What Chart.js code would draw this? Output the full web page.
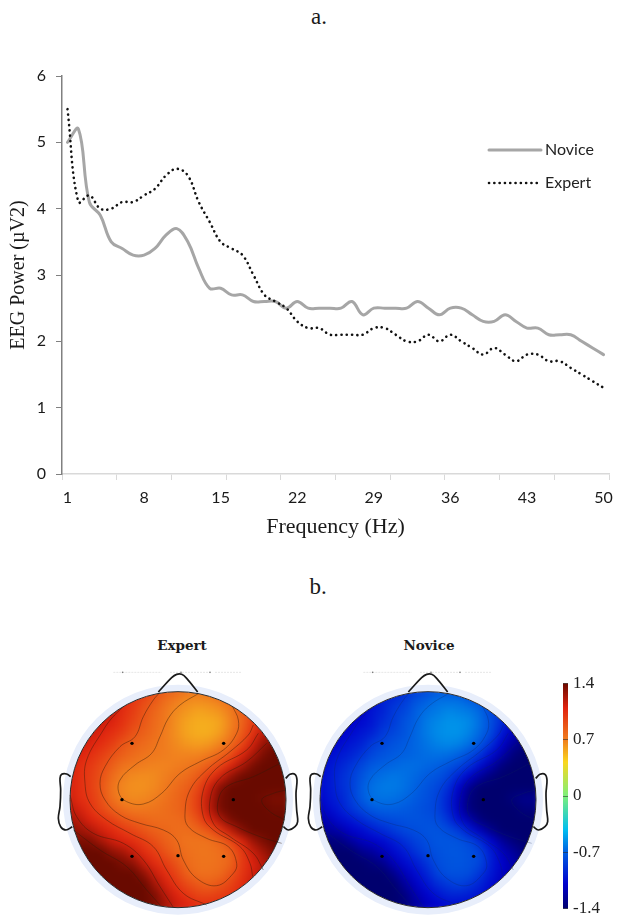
<!DOCTYPE html>
<html>
<head>
<meta charset="utf-8">
<title>EEG power</title>
<script src="https://cdn.jsdelivr.net/npm/chart.js@4/dist/chart.umd.min.js"></script>
<style>
    html, body { margin: 0; padding: 0; background: #fff; overflow: hidden; }
    body { position: relative; width: 617px; height: 924px; }
    canvas { position: absolute; }
    .label { position: absolute; transform: translate(-50%, -50%); color: #1a1a1a; white-space: nowrap; }
    .panel { font: 23px "Liberation Serif", serif; }
    .mapTitle { font: bold 13.5px "DejaVu Serif", serif; }
</style>
</head>
<body>
<div class="label panel" style="left:319px;top:17px">a.</div>
<div class="label panel" style="left:318px;top:587px">b.</div>
<div class="label mapTitle" style="left:182px;top:645px">Expert</div>
<div class="label mapTitle" style="left:429px;top:645px">Novice</div>
<canvas id="lineChart" style="left:0;top:0"></canvas>
<canvas id="expertMap" style="left:43px;top:665px"></canvas>
<canvas id="noviceMap" style="left:293px;top:665px"></canvas>
<canvas id="colorBar" style="left:555px;top:668px"></canvas>
<script>
// Line chart data
const frequencies = [1,2,3,4,5,6,7,8,9,10,11,12,13,14,15,16,17,18,19,20,21,22,23,24,25,26,27,28,29,30,31,32,33,34,35,36,37,38,39,40,41,42,43,44,45,46,47,48,49,50];
const novicePower = [5.0,5.2,4.1,3.9,3.5,3.4,3.3,3.3,3.4,3.6,3.7,3.5,3.1,2.8,2.8,2.7,2.7,2.6,2.6,2.6,2.5,2.6,2.5,2.5,2.5,2.5,2.6,2.4,2.5,2.5,2.5,2.5,2.6,2.5,2.4,2.5,2.5,2.4,2.3,2.3,2.4,2.3,2.2,2.2,2.1,2.1,2.1,2.0,1.9,1.8];
const expertPower = [5.5,4.1,4.2,4.0,4.0,4.1,4.1,4.2,4.3,4.5,4.6,4.5,4.1,3.8,3.5,3.4,3.3,3.0,2.7,2.6,2.5,2.3,2.2,2.2,2.1,2.1,2.1,2.1,2.2,2.2,2.1,2.0,2.0,2.1,2.0,2.1,2.0,1.9,1.8,1.9,1.8,1.7,1.8,1.8,1.7,1.7,1.6,1.5,1.4,1.3];
const xTickLabels = [1,8,15,22,29,36,43,50];
const xTickMarks = [0.5,5.5,10.5,15.5,20.5,25.5,30.5,35.5,40.5,45.5,50.5];

// Scalp map data, in picture units (head centre 414,509, radius 324)
const gridX = [90,122,155,187,220,252,284,317,349,382,414,446,479,511,544,576,608,641,673,706,738];
const gridY = [185,217,250,282,315,347,379,412,444,477,509,541,574,606,639,671,703,736,768,801,833];
const expertCells = [
    [1.25,1.25,1.25,1.25,1.2,1.15,1.1,1.02,.92,.85,.8,.75,.75,.8,.9,.98,1.05,1.1,1.15,1.2,1.25],
    [1.25,1.25,1.25,1.2,1.15,1.1,1.0,.92,.85,.76,.7,.66,.65,.66,.7,.78,.88,.98,1.08,1.2,1.25],
    [1.25,1.25,1.2,1.2,1.15,1.05,.98,.88,.8,.72,.66,.62,.58,.6,.63,.7,.82,.94,1.08,1.2,1.3],
    [1.25,1.2,1.2,1.15,1.1,1.03,.94,.86,.78,.72,.64,.58,.55,.55,.58,.68,.8,.96,1.12,1.25,1.3],
    [1.2,1.2,1.15,1.1,1.04,.98,.88,.82,.77,.7,.64,.58,.55,.55,.6,.7,.84,1.02,1.18,1.3,1.35],
    [1.2,1.15,1.1,1.05,.98,.88,.82,.78,.74,.7,.66,.62,.6,.62,.68,.78,.92,1.12,1.28,1.35,1.4],
    [1.15,1.1,1.05,.98,.9,.83,.78,.74,.72,.7,.68,.68,.68,.72,.8,.9,1.08,1.22,1.35,1.4,1.4],
    [1.15,1.05,1.0,.92,.84,.75,.72,.7,.68,.68,.7,.72,.77,.84,.94,1.08,1.22,1.35,1.4,1.4,1.4],
    [1.12,1.05,.98,.9,.78,.7,.66,.65,.66,.7,.74,.78,.85,.98,1.12,1.28,1.38,1.4,1.4,1.4,1.4],
    [1.12,1.05,.98,.88,.75,.67,.64,.64,.67,.72,.78,.83,.93,1.12,1.32,1.4,1.4,1.4,1.4,1.4,1.4],
    [1.15,1.05,1.0,.9,.76,.68,.66,.67,.7,.75,.8,.85,.98,1.18,1.36,1.4,1.4,1.4,1.38,1.35,1.35],
    [1.2,1.12,1.03,.93,.84,.76,.72,.72,.74,.77,.8,.85,.98,1.18,1.36,1.4,1.4,1.4,1.4,1.38,1.38],
    [1.25,1.2,1.1,1.03,.96,.88,.83,.8,.78,.77,.78,.8,.9,1.08,1.22,1.36,1.4,1.4,1.4,1.4,1.4],
    [1.32,1.28,1.22,1.13,1.07,1.0,.94,.87,.82,.8,.77,.77,.8,.87,1.02,1.17,1.32,1.4,1.4,1.4,1.4],
    [1.35,1.35,1.35,1.25,1.15,1.1,1.05,.98,.9,.82,.78,.74,.74,.75,.8,.92,1.08,1.25,1.35,1.4,1.4],
    [1.4,1.4,1.4,1.4,1.3,1.25,1.15,1.05,.98,.88,.8,.76,.74,.74,.76,.82,.98,1.15,1.25,1.35,1.4],
    [1.4,1.4,1.4,1.4,1.4,1.35,1.3,1.15,1.05,.98,.88,.78,.75,.74,.76,.8,.98,1.1,1.2,1.3,1.4],
    [1.4,1.4,1.4,1.4,1.4,1.4,1.4,1.3,1.15,1.05,.95,.82,.76,.76,.78,.88,1.0,1.12,1.2,1.3,1.4],
    [1.4,1.4,1.4,1.4,1.4,1.4,1.4,1.4,1.25,1.12,1.02,.92,.86,.82,.88,.95,1.05,1.15,1.2,1.3,1.4],
    [1.4,1.4,1.4,1.4,1.4,1.4,1.4,1.4,1.35,1.2,1.1,1.02,.95,.95,.98,1.02,1.1,1.15,1.2,1.3,1.4],
    [1.4,1.4,1.4,1.4,1.4,1.4,1.4,1.4,1.35,1.25,1.15,1.1,1.05,1.05,1.05,1.1,1.15,1.2,1.25,1.3,1.4]
];
const noviceCells = [
    [-1.2,-1.2,-1.2,-1.2,-1.15,-1.1,-1.05,-1.0,-.9,-.85,-.8,-.75,-.75,-.8,-.9,-.95,-1.0,-1.05,-1.1,-1.2,-1.25],
    [-1.2,-1.2,-1.2,-1.15,-1.1,-1.05,-.95,-.9,-.85,-.75,-.7,-.65,-.65,-.65,-.7,-.75,-.85,-.95,-1.05,-1.2,-1.25],
    [-1.2,-1.2,-1.15,-1.15,-1.1,-1.0,-.95,-.85,-.8,-.7,-.65,-.62,-.58,-.6,-.62,-.68,-.8,-.9,-1.05,-1.2,-1.3],
    [-1.2,-1.15,-1.15,-1.1,-1.05,-1.0,-.9,-.85,-.75,-.7,-.62,-.58,-.55,-.55,-.58,-.66,-.78,-.92,-1.1,-1.25,-1.3],
    [-1.15,-1.15,-1.1,-1.05,-1.0,-.95,-.85,-.8,-.75,-.68,-.62,-.57,-.55,-.55,-.6,-.68,-.8,-1.0,-1.15,-1.3,-1.35],
    [-1.15,-1.1,-1.05,-1.0,-.95,-.85,-.8,-.75,-.72,-.68,-.64,-.6,-.58,-.6,-.66,-.75,-.9,-1.1,-1.25,-1.35,-1.4],
    [-1.1,-1.05,-1.0,-.95,-.88,-.8,-.75,-.72,-.7,-.68,-.66,-.65,-.66,-.7,-.78,-.88,-1.05,-1.2,-1.35,-1.4,-1.4],
    [-1.1,-1.0,-.95,-.88,-.8,-.72,-.7,-.68,-.66,-.66,-.68,-.7,-.75,-.8,-.9,-1.05,-1.2,-1.35,-1.4,-1.4,-1.4],
    [-1.05,-1.0,-.92,-.85,-.75,-.68,-.65,-.63,-.65,-.68,-.72,-.75,-.82,-.95,-1.1,-1.25,-1.35,-1.4,-1.4,-1.4,-1.4],
    [-1.05,-1.0,-.92,-.85,-.72,-.65,-.62,-.62,-.65,-.7,-.75,-.8,-.9,-1.1,-1.3,-1.4,-1.4,-1.4,-1.4,-1.4,-1.4],
    [-1.1,-1.0,-.95,-.85,-.72,-.65,-.64,-.65,-.68,-.72,-.76,-.82,-.95,-1.15,-1.35,-1.4,-1.4,-1.4,-1.35,-1.3,-1.3],
    [-1.15,-1.05,-.98,-.88,-.8,-.72,-.7,-.7,-.72,-.75,-.78,-.82,-.95,-1.15,-1.35,-1.4,-1.4,-1.4,-1.4,-1.35,-1.35],
    [-1.2,-1.15,-1.05,-1.0,-.92,-.85,-.8,-.78,-.76,-.75,-.76,-.78,-.88,-1.05,-1.2,-1.35,-1.4,-1.4,-1.4,-1.4,-1.4],
    [-1.3,-1.25,-1.2,-1.1,-1.05,-.98,-.92,-.85,-.8,-.78,-.75,-.75,-.78,-.85,-1.0,-1.15,-1.3,-1.4,-1.4,-1.4,-1.4],
    [-1.35,-1.35,-1.35,-1.25,-1.15,-1.1,-1.05,-.98,-.9,-.82,-.78,-.74,-.74,-.75,-.8,-.92,-1.08,-1.25,-1.35,-1.4,-1.4],
    [-1.4,-1.4,-1.4,-1.4,-1.3,-1.25,-1.15,-1.05,-.98,-.88,-.8,-.76,-.74,-.74,-.76,-.82,-.98,-1.15,-1.25,-1.35,-1.4],
    [-1.4,-1.4,-1.4,-1.4,-1.4,-1.35,-1.3,-1.15,-1.05,-.98,-.88,-.78,-.75,-.74,-.76,-.8,-.98,-1.1,-1.2,-1.3,-1.4],
    [-1.4,-1.4,-1.4,-1.4,-1.4,-1.4,-1.4,-1.3,-1.15,-1.05,-.95,-.82,-.76,-.76,-.78,-.88,-1.0,-1.12,-1.2,-1.3,-1.4],
    [-1.4,-1.4,-1.4,-1.4,-1.4,-1.4,-1.4,-1.4,-1.25,-1.12,-1.02,-.92,-.86,-.82,-.88,-.95,-1.05,-1.15,-1.2,-1.3,-1.4],
    [-1.4,-1.4,-1.4,-1.4,-1.4,-1.4,-1.4,-1.4,-1.35,-1.2,-1.1,-1.02,-.95,-.95,-.98,-1.02,-1.1,-1.15,-1.2,-1.3,-1.4],
    [-1.4,-1.4,-1.4,-1.4,-1.4,-1.4,-1.4,-1.4,-1.35,-1.25,-1.15,-1.1,-1.05,-1.05,-1.05,-1.1,-1.15,-1.2,-1.25,-1.3,-1.4]
];
const electrodes = [[276,340],[551,340],[246,509],[580,509],[276,679],[414,677],[551,679]];
const contours = [
    [[475,191],[420,225],[385,265],[360,320],[335,370],[285,405],[240,450],[237,490],[260,515],[310,522],[365,490],[420,430],[480,395],[550,360],[590,310],[595,270],[578,230]],
    [[360,187],[340,210],[310,260],[285,320],[240,350],[195,410],[180,460],[195,510],[240,555],[300,580],[370,600],[410,630],[430,690],[470,745],[530,767],[580,730],[590,700],[565,650],[500,625],[445,590],[435,550],[450,480],[500,420],[570,365],[625,315],[640,285]],
    [[250,230],[215,265],[190,300],[140,390],[135,460],[150,520],[200,570],[270,610],[340,650],[380,720],[430,790],[500,825]],
    [[655,310],[620,360],[530,415],[490,480],[490,560],[520,600],[600,650],[630,700],[638,740]],
    [[90,495],[110,560],[160,610],[250,640],[310,690],[360,770],[400,832]],
    [[680,340],[620,395],[540,445],[510,510],[520,580],[570,620],[640,670],[670,720]],
    [[720,400],[640,440],[560,470],[535,510],[540,560],[590,590],[660,620],[725,640]],
    [[738,480],[700,490],[665,510],[690,545],[735,570]],
    [[100,600],[180,660],[260,710],[320,780],[360,825]]
];
const nose = [[355,186],[395,143],[410,133],[425,133],[440,145],[473,186]];
const leftEar = [[92,440],[80,432],[65,433],[60,445],[62,480],[60,530],[55,565],[62,590],[78,600],[97,590]];
const rightEar = [[737,445],[750,433],[765,433],[771,450],[768,490],[770,540],[773,575],[765,590],[745,600],[730,590]];
const topMarks = [[248,127],[423,127],[510,127]];
const topStrokes = [[[220,127],[365,127]],[[390,127],[505,127]],[[525,127],[605,127]]];
const colorStops = [-1.4,-0.7,0,0.7,1.4];

const serif = '"Liberation Serif", serif';
const sans = 'Lato, sans-serif';

// Jet colour ramp shared by the maps and the colour bar
const jetStops = [[0,[0,0,110]],[0.11,[0,0,205]],[0.25,[0,95,225]],[0.35,[0,190,240]],[0.5,[125,240,122]],[0.65,[250,215,30]],[0.75,[240,125,30]],[0.89,[225,35,15]],[1,[105,10,0]]];
function jet(v) {
    const t = Math.min(1, Math.max(0, (v + 1.4) / 2.8));
    for (let i = 1; i < jetStops.length; i++) {
        if (t <= jetStops[i][0]) {
            const [t0, c0] = jetStops[i - 1];
            const [t1, c1] = jetStops[i];
            const f = (t - t0) / (t1 - t0);
            return 'rgb(' + c0.map((c, k) => Math.round(c + (c1[k] - c) * f)).join(',') + ')';
        }
    }
    return 'rgb(105,10,0)';
}

// Legend at a fixed spot inside the plot
const sideLegend = {
    id: 'sideLegend',
    afterDraw(chart) {
        const ctx = chart.ctx;
        [[150, 0], [183, 1]].forEach(([y, i]) => {
            const ds = chart.data.datasets[i];
            ctx.save();
            ctx.strokeStyle = ds.borderColor;
            ctx.lineWidth = ds.borderWidth;
            ctx.lineCap = ds.borderCapStyle;
            ctx.setLineDash(ds.borderDash || []);
            ctx.beginPath();
            ctx.moveTo(489, y);
            ctx.lineTo(541, y);
            ctx.stroke();
            ctx.restore();
            ctx.fillStyle = '#222';
            ctx.font = '16px ' + sans;
            ctx.textBaseline = 'middle';
            ctx.fillText(ds.label, 545, y);
        });
    }
};

const lineCanvas = document.getElementById('lineChart');
lineCanvas.width = 617;
lineCanvas.height = 540;
new Chart(lineCanvas, {
    type: 'line',
    data: {
        datasets: [
            { label: 'Novice', data: frequencies.map((f, i) => ({ x: f, y: novicePower[i] })), borderColor: '#a6a6a6', borderWidth: 3, borderCapStyle: 'round', tension: 0.4, pointRadius: 0, order: 2 },
            { label: 'Expert', data: frequencies.map((f, i) => ({ x: f, y: expertPower[i] })), borderColor: '#111', borderWidth: 2.6, borderCapStyle: 'round', borderDash: [0.1, 5.2], tension: 0.4, pointRadius: 0, order: 1 }
        ]
    },
    options: {
        responsive: false,
        animation: false,
        layout: { padding: { top: 76, right: 3, left: 7, bottom: 0 } },
        plugins: { legend: { display: false }, tooltip: { enabled: false } },
        scales: {
            x: {
                type: 'linear',
                min: 0.5,
                max: 50.5,
                afterBuildTicks(axis) {
                    axis.ticks = xTickMarks.concat(xTickLabels).sort((a, b) => a - b).map(v => ({ value: v }));
                },
                afterFit(axis) { axis.height = 66; },
                grid: {
                    drawOnChartArea: false,
                    tickLength: 6,
                    tickColor: ctx => xTickMarks.includes(ctx.tick.value) ? '#d9d9d9' : 'transparent'
                },
                border: { color: '#d9d9d9', width: 1.5 },
                ticks: {
                    autoSkip: false,
                    maxRotation: 0,
                    padding: 8,
                    color: '#1a1a1a',
                    font: { family: sans, size: 16 },
                    callback: v => xTickLabels.includes(v) ? String(v) : ''
                },
                title: { display: true, text: 'Frequency (Hz)', color: '#1a1a1a', font: { family: serif, size: 22 }, padding: { top: 0, bottom: 0 } }
            },
            y: {
                min: 0,
                max: 6,
                afterFit(axis) { axis.width = 55; },
                grid: { drawOnChartArea: false, tickLength: 6, tickColor: '#808080' },
                border: { color: '#808080', width: 1.5 },
                ticks: { stepSize: 1, padding: 10, color: '#1a1a1a', font: { family: sans, size: 16 } },
                title: { display: true, text: 'EEG Power (µV2)', color: '#1a1a1a', font: { family: serif, size: 20 }, padding: { top: 0, bottom: 0 } }
            }
        }
    },
    plugins: [sideLegend]
});

// Smooths the colour cells and trims them to the head circle
const headBlur = {
    id: 'headBlur',
    afterDatasetDraw(chart, args) {
        if (args.index !== chart.data.datasets.length - 1) return;
        const ctx = chart.ctx;
        const x = chart.scales.x;
        const y = chart.scales.y;
        const copy = document.createElement('canvas');
        copy.width = chart.canvas.width;
        copy.height = chart.canvas.height;
        copy.getContext('2d').drawImage(chart.canvas, 0, 0);
        ctx.save();
        ctx.setTransform(1, 0, 0, 1, 0, 0);
        ctx.clearRect(0, 0, copy.width, copy.height);
        ctx.beginPath();
        ctx.arc(x.getPixelForValue(414), y.getPixelForValue(509), 108, 0, Math.PI * 2);
        ctx.clip();
        ctx.filter = 'blur(5px)';
        ctx.drawImage(copy, 0, 0);
        ctx.restore();
    }
};

function toPoints(list) {
    return list.map(p => ({ x: p[0], y: p[1] }));
}

function drawMap(id, cells, contourColor) {
    const canvas = document.getElementById(id);
    canvas.width = 270;
    canvas.height = 259;
    const cellPoints = [];
    cells.forEach((row, r) => row.forEach((v, c) => cellPoints.push({ x: gridX[c], y: gridY[r], v: v })));
    const outline = { type: 'line', borderColor: '#1a1a1a', borderWidth: 1.7, tension: 0.35, pointRadius: 0, fill: false, order: 1 };
    const datasets = [
        { type: 'line', data: [{ x: 414, y: 509 }], showLine: false, pointRadius: 108, pointBackgroundColor: 'transparent', pointBorderColor: '#2a2a2a', pointBorderWidth: 1, order: 2 },
        { type: 'scatter', data: toPoints(electrodes), pointRadius: 1.7, pointBackgroundColor: '#000', pointBorderWidth: 0, order: 0 },
        { ...outline, data: toPoints(nose) },
        { ...outline, data: toPoints(leftEar) },
        { ...outline, data: toPoints(rightEar) },
        { type: 'scatter', data: toPoints(topMarks), pointRadius: 0.8, pointBackgroundColor: '#777', pointBorderWidth: 0, order: 1 }
    ];
    topStrokes.forEach(s => datasets.push({ type: 'line', data: toPoints(s), borderColor: '#e6e6e6', borderWidth: 1, borderDash: [2, 1], pointRadius: 0, order: 5 }));
    contours.forEach(c => datasets.push({ type: 'line', data: toPoints(c), borderColor: contourColor, borderWidth: 0.8, tension: 0.4, pointRadius: 0, order: 3 }));
    // pale ring round the head
    datasets.push({ type: 'line', data: [{ x: 414, y: 509 }], showLine: false, pointRadius: 111.5, pointBackgroundColor: 'transparent', pointBorderColor: '#e8eefb', pointBorderWidth: 7, order: 4 });
    datasets.push({
        type: 'scatter',
        data: cellPoints,
        pointStyle: 'rect',
        pointRadius: 10,
        pointBorderWidth: 0,
        pointBackgroundColor: ctx => jet(ctx.raw.v),
        order: 9
    });
    new Chart(canvas, {
        data: { datasets: datasets },
        options: {
            responsive: false,
            animation: false,
            events: [],
            layout: { autoPadding: false },
            plugins: { legend: { display: false }, tooltip: { enabled: false } },
            scales: {
                x: { type: 'linear', display: false, min: 9, max: 819 },
                y: { type: 'linear', display: false, min: 105, max: 882, reverse: true }
            }
        },
        plugins: [headBlur]
    });
}

drawMap('expertMap', expertCells, 'rgba(50,25,10,0.55)');
drawMap('noviceMap', noviceCells, 'rgba(15,35,90,0.35)');

// Colour bar: one floating bar filled with the ramp
const barCanvas = document.getElementById('colorBar');
barCanvas.width = 62;
barCanvas.height = 256;
new Chart(barCanvas, {
    type: 'bar',
    data: {
        labels: ['scale'],
        datasets: [{
            data: [[colorStops[0], colorStops[colorStops.length - 1]]],
            barPercentage: 1,
            categoryPercentage: 1,
            backgroundColor(ctx) {
                const area = ctx.chart.chartArea;
                if (!area) return '#000';
                const g = ctx.chart.ctx.createLinearGradient(0, area.bottom, 0, area.top);
                jetStops.forEach(s => g.addColorStop(s[0], jet(s[0] * 2.8 - 1.4)));
                return g;
            }
        }]
    },
    options: {
        responsive: false,
        animation: false,
        layout: { padding: { left: 8, top: 12, bottom: 12, right: 0 } },
        plugins: { legend: { display: false }, tooltip: { enabled: false } },
        scales: {
            x: { display: false },
            y: {
                position: 'right',
                min: -1.4,
                max: 1.4,
                afterBuildTicks(axis) { axis.ticks = colorStops.map(v => ({ value: v })); },
                afterFit(axis) { axis.width = 49; },
                border: { display: false },
                grid: { drawTicks: false, z: 1, color: 'rgba(40,40,40,0.55)' },
                ticks: { padding: 5, color: '#222', font: { family: '"Liberation Serif", serif', size: 17 }, callback: v => String(v) }
            }
        }
    }
});
</script>
</body>
</html>
